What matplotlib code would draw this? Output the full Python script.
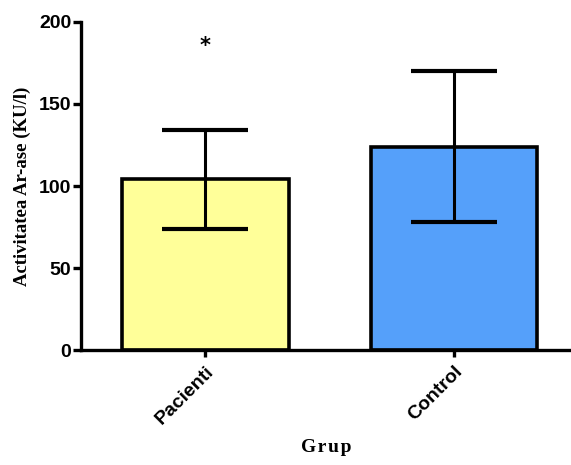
import numpy as np
import matplotlib.pyplot as plt

# data
groups = ["Pacienti", "Control"]
means = [104, 124]
sds = [30, 46]
bar_colors = ["#FFFF99", "#55A0FA"]
star_value = 185

fig = plt.figure(figsize=(5.71, 4.65), dpi=100)
ax = fig.add_axes([0.142, 0.247, 0.858, 0.706])

x = np.arange(len(groups))
ax.bar(x, means, width=0.67, color=bar_colors, edgecolor="black", linewidth=2.6, zorder=2)
ax.errorbar(x, means, yerr=sds, fmt="none", ecolor="black", elinewidth=2.2,
            capsize=31, capthick=3, zorder=3)
ax.text(x[0], star_value, "*", ha="center", va="center", fontsize=15, fontweight="bold")

ax.set_xlim(-0.5, 1.47)
ax.set_ylim(0, 200)
ax.set_yticks([0, 50, 100, 150, 200])
ax.set_xticks(x)
ax.set_xticklabels(groups, rotation=45, ha="right", rotation_mode="anchor",
                   fontsize=14, fontweight="bold", family="Liberation Sans")
for lab in ax.get_yticklabels():
    lab.set_family("Liberation Sans")
    lab.set_fontweight("bold")
    lab.set_fontsize(14)

ax.spines["top"].set_visible(False)
ax.spines["right"].set_visible(False)
ax.spines["left"].set_linewidth(2.4)
ax.spines["bottom"].set_linewidth(2.4)
ax.tick_params(axis="y", length=6, width=2.4, pad=1)
ax.tick_params(axis="x", length=5, width=2.4, pad=4)

ax.set_ylabel("Activitatea Ar-ase (KU/l)", family="Liberation Serif",
              fontweight="bold", fontsize=13.5, labelpad=6)
ax.set_xlabel("G\u200ar\u200au\u200ap", family="Liberation Serif", fontweight="bold",
              fontsize=14, labelpad=8)

fig.savefig("out.png", dpi=100)
